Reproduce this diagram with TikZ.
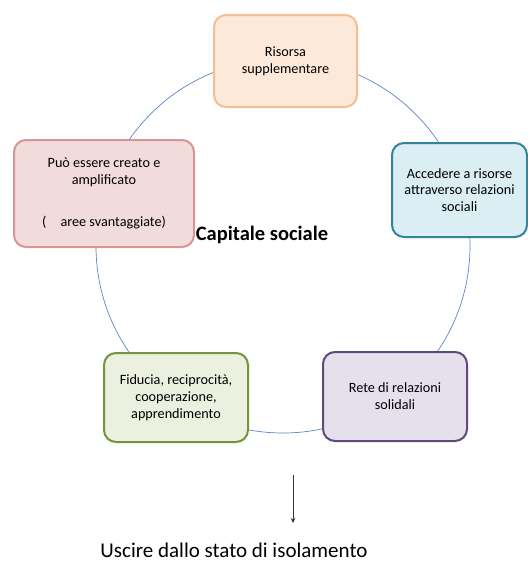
\documentclass[tikz,border=0pt]{standalone}
\usepackage{fontspec}
\setmainfont{Carlito}
\usetikzlibrary{arrows.meta}
\definecolor{ringblue}{HTML}{5B86C4}
\definecolor{peachfill}{HTML}{FDE9D9}
\definecolor{peachline}{HTML}{F8BD90}
\definecolor{rosefill}{HTML}{F2DCDB}
\definecolor{roseline}{HTML}{D99594}
\definecolor{tealfill}{HTML}{DAEEF3}
\definecolor{tealline}{HTML}{31849B}
\definecolor{olivefill}{HTML}{EBF1DE}
\definecolor{oliveline}{HTML}{77933C}
\definecolor{lilacfill}{HTML}{E5E0EC}
\definecolor{lilacline}{HTML}{5F497A}
\tikzset{
  cardbox/.style={draw, line width=2pt, rounded corners=12pt, align=center,
    font=\fontsize{14.2}{16.8}\selectfont, inner sep=0pt},
}
\begin{document}
\begin{tikzpicture}[x=1pt,y=-1pt]
  \useasboundingbox (0,0) rectangle (528,563);
  % ring behind the cards
  \draw[ringblue, line width=0.7pt] (283,246) circle (187);
  % cards around the ring
  \node[cardbox, fill=peachfill, draw=peachline, minimum width=143pt, minimum height=92pt]
    (res) at (285.5,61) {Risorsa\\supplementare};
  \node[cardbox, fill=rosefill, draw=roseline, minimum width=180pt, minimum height=107pt]
    (cre) at (104,193.5) {Può essere creato e\\amplificato\\[26pt](\quad aree svantaggiate)};
  \node[cardbox, fill=tealfill, draw=tealline, minimum width=135pt, minimum height=94pt]
    (acc) at (459.5,190) {Accedere a risorse\\attraverso relazioni\\sociali};
  \node[cardbox, fill=olivefill, draw=oliveline, minimum width=144pt, minimum height=89pt]
    (fid) at (176,397.5) {Fiducia, reciprocità,\\cooperazione,\\apprendimento};
  \node[cardbox, fill=lilacfill, draw=lilacline, minimum width=144pt, minimum height=89pt]
    (ret) at (395,396.5) {Rete di relazioni\\solidali};
  % central title
  \node[font=\bfseries\fontsize{20.5}{23}\selectfont, inner sep=0pt] (cap) at (262,235) {Capitale sociale};
  % outcome
  \coordinate (arrtop) at (293,475);
  \node[font=\fontsize{21}{24}\selectfont, inner sep=0pt] (out) at (234,550) {Uscire dallo stato di isolamento};
  \coordinate (arrbot) at (293,523);
  \draw[-{Stealth[length=5pt,width=4.5pt]}, line width=0.9pt, black!80] (arrtop) -- (arrbot);
\end{tikzpicture}
\end{document}
